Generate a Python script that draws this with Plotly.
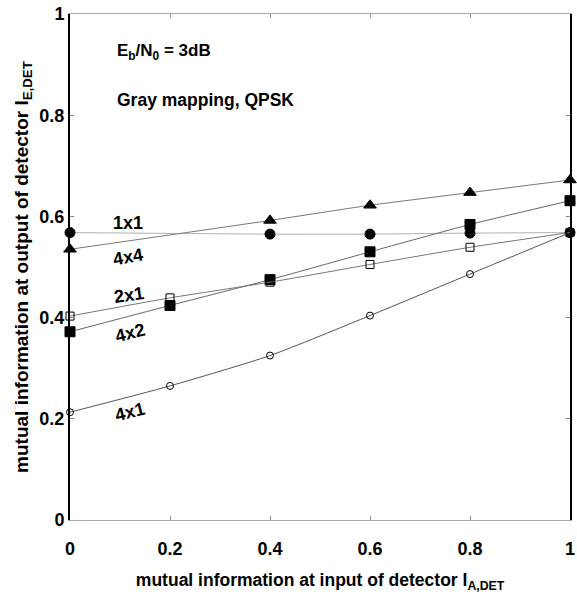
import plotly.graph_objects as go

# data
x_all = [0, 0.2, 0.4, 0.6, 0.8, 1.0]
x_no02 = [0, 0.4, 0.6, 0.8, 1.0]

y_1x1 = [0.568, 0.565, 0.565, 0.567, 0.568]       # filled circles
y_4x4 = [0.535, 0.592, 0.622, 0.647, 0.672]       # filled triangles
y_4x2 = [0.372, 0.424, 0.475, 0.530, 0.584, 0.631]  # filled squares
y_2x1 = [0.403, 0.439, 0.470, 0.505, 0.539, 0.568]  # open squares
y_4x1 = [0.213, 0.265, 0.325, 0.404, 0.486, 0.568]  # open circles

labels = ["1x1", "4x4", "2x1", "4x2", "4x1"]
label_x = [0.115, 0.115, 0.118, 0.12, 0.12]
label_y = [0.587, 0.52, 0.445, 0.37, 0.213]
label_rot = [0, -10, -8, -14, -14]

xticks = [0, 0.2, 0.4, 0.6, 0.8, 1]
xtick_text = ["0", "0.2", "0.4", "0.6", "0.8", "1"]

FONT = "Liberation Sans, Arial, sans-serif"

fig = go.Figure()

series = [
    (x_no02, y_1x1, "circle", "black", "#b0b0b0", 10),
    (x_no02, y_4x4, "triangle-up", "black", "#777777", 11),
    (x_all, y_4x2, "square", "black", "#666666", 10),
    (x_all, y_2x1, "square-open", "black", "#777777", 8),
    (x_all, y_4x1, "circle-open", "black", "#555555", 7),
]
for xs, ys, sym, mc, lc, sz in series:
    fig.add_trace(go.Scatter(
        x=xs, y=ys, mode="lines+markers",
        line=dict(color=lc, width=1, shape="spline", smoothing=0.6),
        marker=dict(symbol=sym, size=sz, color=mc, line=dict(color=mc, width=1)),
        showlegend=False, cliponaxis=False,
    ))

for t, lx, ly, rot in zip(labels, label_x, label_y, label_rot):
    fig.add_annotation(x=lx, y=ly, text=t, showarrow=False, textangle=rot,
                       font=dict(family=FONT, size=18, color="black", weight="bold"))

fig.add_annotation(x=0.089, y=0.925, xanchor="left", text="E<sub>b</sub>/N<sub>0</sub> = 3dB",
                   showarrow=False, font=dict(family=FONT, size=17, color="black", weight="bold"))
fig.add_annotation(x=0.089, y=0.83, xanchor="left", text="Gray mapping, QPSK",
                   showarrow=False, font=dict(family=FONT, size=17.5, color="black", weight="bold"))

fig.update_layout(
    width=577, height=598,
    margin=dict(l=70, r=2, t=14, b=78),
    paper_bgcolor="white", plot_bgcolor="white",
    font=dict(family=FONT, color="black"),
    xaxis=dict(
        range=[0, 1], tickvals=xticks, ticktext=xtick_text,
        showgrid=False, zeroline=False,
        showline=True, linecolor="#aaaaaa", linewidth=1, mirror="ticks",
        ticks="inside", ticklen=4, tickcolor="#888888",
        ticklabeloverflow="allow", ticklabelstandoff=12,
        tickfont=dict(family=FONT, size=18, weight="bold"),
        title=dict(text="mutual information at input of detector I<sub>A,DET</sub>",
                   font=dict(family=FONT, size=17.5, weight="bold"), standoff=16),
    ),
    yaxis=dict(
        range=[0, 1], tickvals=xticks, ticktext=xtick_text,
        showgrid=False, zeroline=False,
        showline=True, linecolor="black", linewidth=2, mirror="ticks",
        ticks="inside", ticklen=4, tickcolor="#888888",
        ticklabeloverflow="allow",
        tickfont=dict(family=FONT, size=18, weight="bold"),
        title=dict(text="mutual information at output of detector I<sub>E,DET</sub>",
                   font=dict(family=FONT, size=19, weight="bold"), standoff=6),
    ),
)

fig.write_html("out.html")
